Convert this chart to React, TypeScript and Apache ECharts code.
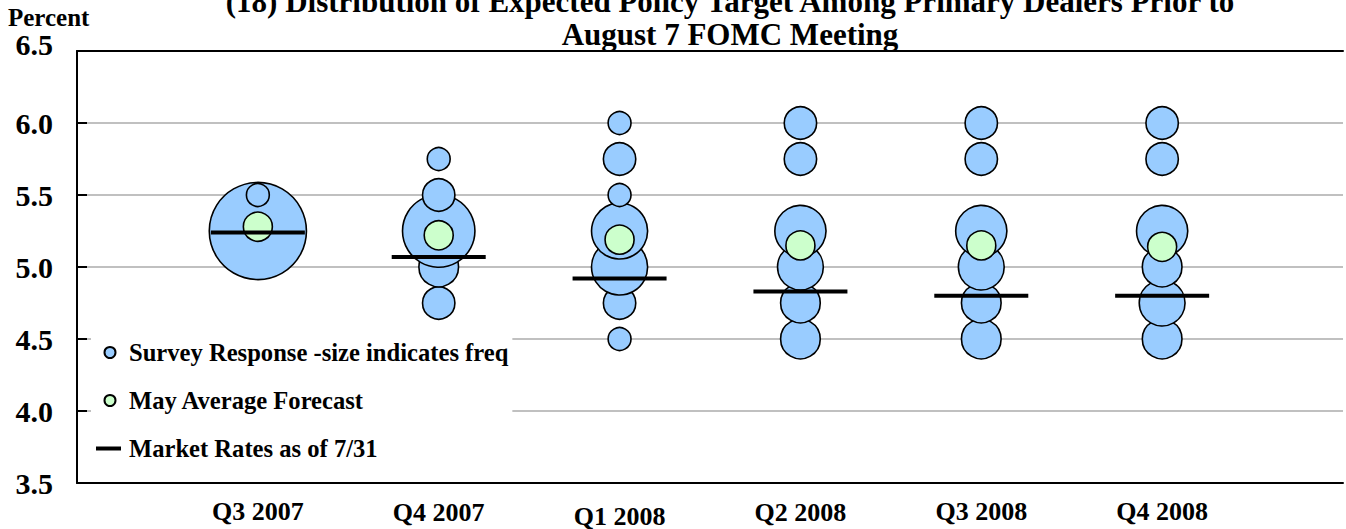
import React, { useEffect, useRef } from 'react';
import * as echarts from 'echarts';

const categories = ['Q3 2007', 'Q4 2007', 'Q1 2008', 'Q2 2008', 'Q3 2008', 'Q4 2008'];

// Survey responses (rate levels) and how many dealers gave each one
const responseRates = [
  [5.25, 5.5],
  [4.75, 5.0, 5.25, 5.5, 5.75],
  [4.5, 4.75, 5.0, 5.25, 5.5, 5.75, 6.0],
  [4.5, 4.75, 5.0, 5.25, 5.75, 6.0],
  [4.5, 4.75, 5.0, 5.25, 5.75, 6.0],
  [4.5, 4.75, 5.0, 5.25, 5.75, 6.0],
];
const responseCounts = [
  [18, 1],
  [2, 3, 10, 2, 1],
  [1, 2, 6, 6, 1, 2, 1],
  [3, 3, 4, 5, 2, 2],
  [3, 3, 4, 5, 2, 2],
  [3, 4, 3, 5, 2, 2],
];
const mayAverageForecast = [5.28, 5.22, 5.19, 5.15, 5.15, 5.14];
const marketRates = [5.24, 5.07, 4.92, 4.83, 4.8, 4.8];

const SERIES_SURVEY = 'Survey Response -size indicates freq';
const SERIES_MAY = 'May Average Forecast';
const SERIES_MARKET = 'Market Rates as of 7/31';

const FONT = '"Liberation Serif", "Times New Roman", serif';
const LABEL_DROP = [0, 1, 5, 1, 0, 0];

export default function App() {
  const ref = useRef<HTMLDivElement>(null);

  useEffect(() => {
    if (!ref.current) return;
    const chart = echarts.init(ref.current, undefined, { renderer: 'svg' });

    const surveyData: number[][] = [];
    responseRates.forEach((rates, i) => {
      rates.forEach((r, j) => surveyData.push([i + 1, r, responseCounts[i][j]]));
    });
    const mayData = mayAverageForecast.map((v, i) => [i + 1, v]);
    const marketData = marketRates.map((v, i) => [i + 1, v]);

    const rich: Record<string, any> = {};
    LABEL_DROP.forEach((d, i) => {
      rich['c' + i] = {
        fontFamily: FONT,
        fontWeight: 'bold',
        fontSize: 26,
        color: '#000',
        padding: [d, 0, 0, 0],
      };
    });

    chart.setOption({
      animation: false,
      backgroundColor: '#fff',
      title: [
        {
          text: '(18) Distribution of Expected Policy Target Among Primary Dealers Prior to\nAugust 7 FOMC Meeting',
          left: 730,
          top: -15,
          textAlign: 'center',
          padding: 0,
          textStyle: { fontFamily: FONT, fontWeight: 'bold', fontSize: 31, lineHeight: 33, color: '#000' },
        },
        {
          text: 'Percent',
          left: 8,
          top: 5,
          padding: 0,
          textStyle: { fontFamily: FONT, fontWeight: 'bold', fontSize: 25, lineHeight: 24, color: '#000' },
        },
      ],
      grid: { left: 77, right: 0, top: 51, bottom: 46, containLabel: false },
      legend: {
        orient: 'vertical',
        left: 91,
        top: 326,
        padding: [14, 4, 14, 5],
        backgroundColor: '#fff',
        itemWidth: 28,
        itemHeight: 11,
        itemGap: 23,
        selectedMode: false,
        textStyle: { fontFamily: FONT, fontWeight: 'bold', fontSize: 24.6, lineHeight: 24, color: '#000' },
        data: [
          { name: SERIES_SURVEY, icon: 'circle' },
          { name: SERIES_MAY, icon: 'circle' },
          { name: SERIES_MARKET, icon: 'path://M0,0 L25,0 L25,4 L0,4 Z M28,2' },
        ],
      },
      xAxis: [
        {
          type: 'value',
          min: 0,
          max: 7,
          interval: 1,
          position: 'bottom',
          axisLine: { show: true, onZero: false, lineStyle: { color: '#000', width: 2 } },
          axisTick: { show: false },
          splitLine: { show: false },
          axisLabel: {
            margin: 15,
            fontFamily: FONT,
            fontWeight: 'bold',
            fontSize: 26,
            color: '#000',
            formatter: (v: number) => {
              const i = Math.round(v) - 1;
              if (i < 0 || i >= categories.length) return '';
              return `{c${i}|${categories[i]}}`;
            },
            rich,
          },
        },
        {
          type: 'value',
          min: 0,
          max: 7,
          interval: 1,
          position: 'top',
          axisLine: { show: true, onZero: false, lineStyle: { color: '#000', width: 2 } },
          axisTick: { show: false },
          axisLabel: { show: false },
          splitLine: { show: false },
        },
      ],
      yAxis: {
        type: 'value',
        min: 3.5,
        max: 6.5,
        interval: 0.5,
        axisLine: { show: true, onZero: false, lineStyle: { color: '#000', width: 2 } },
        axisTick: { show: true, inside: true, length: 10, lineStyle: { color: '#000', width: 2 } },
        splitLine: { show: true, lineStyle: { color: '#C0C0C0', width: 2 } },
        axisLabel: {
          margin: 24,
          fontFamily: FONT,
          fontWeight: 'bold',
          fontSize: 30,
          lineHeight: 22,
          color: '#000',
          formatter: (v: number) => (v >= 6.5 ? `{top|${v.toFixed(1)}}` : v.toFixed(1)),
          rich: {
            top: {
              fontFamily: FONT,
              fontWeight: 'bold',
              fontSize: 30,
              lineHeight: 22,
              color: '#000',
              padding: [0, 0, 14, 0],
            },
          },
        },
      },
      series: [
        {
          name: SERIES_SURVEY,
          type: 'scatter',
          silent: true,
          data: surveyData,
          symbol: 'circle',
          symbolSize: (d: number[]) => 22.9 * Math.sqrt(d[2]),
          itemStyle: { color: '#99CCFF', borderColor: '#000', borderWidth: 1.6, opacity: 1 },
        },
        {
          name: SERIES_MAY,
          type: 'scatter',
          silent: true,
          data: mayData,
          symbol: 'circle',
          symbolSize: 29,
          itemStyle: { color: '#CCFFCC', borderColor: '#000', borderWidth: 1.6, opacity: 1 },
        },
        {
          name: SERIES_MARKET,
          type: 'scatter',
          silent: true,
          data: marketData,
          symbol: 'rect',
          symbolSize: [94, 4],
          itemStyle: { color: '#000', opacity: 1 },
        },
      ],
    });

    return () => chart.dispose();
  }, []);

  return <div ref={ref} style={{ position: 'absolute', left: 0, top: 0, width: 1346, height: 529 }} />;
}
